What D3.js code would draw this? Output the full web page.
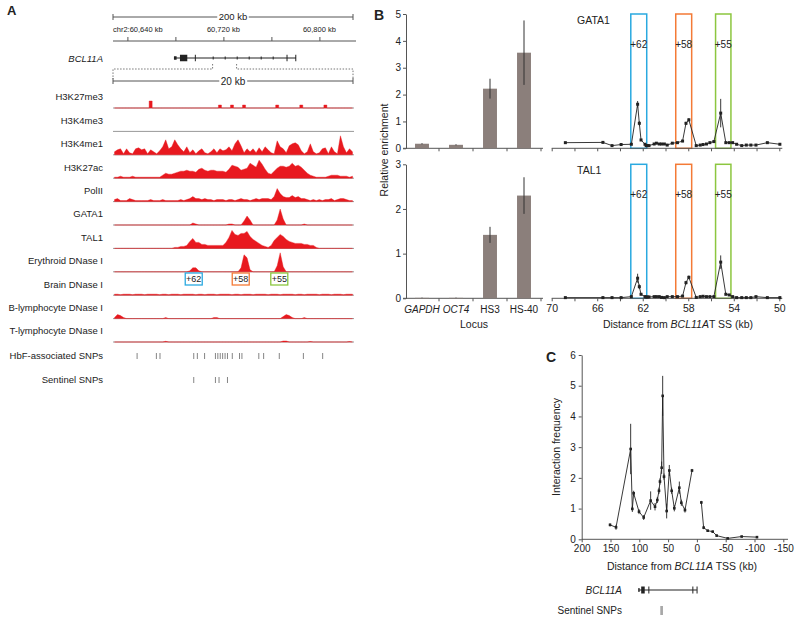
<!DOCTYPE html>
<html><head><meta charset="utf-8">
<script src="https://cdn.jsdelivr.net/npm/d3@7/dist/d3.min.js"></script>
<style>
html,body{margin:0;padding:0;background:#fff;}
svg text{font-family:"Liberation Sans",Arial,Helvetica,sans-serif;fill:#222;}
</style></head><body>
<svg id="fig" width="800" height="620"></svg>
<script>
// ================= DATA =================
// Panel A – genome window (kb, hg19 chr2)
const genomeStart = 60628, genomeEnd = 60828;
const genomeTicks = [60640, 60680, 60720, 60760, 60800];
const genomeTickLabels = [60640, 60720, 60800];
const regionStart = 60711, regionEnd = 60731;
const binKb = 0.25;

const geneName = "BCL11A";
const geneStart = 60678.8, geneTSS = 60780.5;
const exonStart = [60678.8, 60683.8, 60696.2, 60772.6, 60779.9];
const exonEnd   = [60681.0, 60689.9, 60696.9, 60773.3, 60780.5];
const exonType  = ["utr", "cds", "cds", "cds", "cds"];
const intronMarks = [60711.5, 60721.5, 60731.5, 60741.5, 60751.5, 60761.5];

const trackNames = ["H3K27me3","H3K4me3","H3K4me1","H3K27ac","PolII","GATA1","TAL1",
  "Erythroid DNase I","Brain DNase I","B-lymphocyte DNase I","T-lymphocyte DNase I"];

const H3K27me3 = [0,0,0,0,0,0,0,0,0,0, 0,0,7,0,0,0,0,0,0,0, 0,0,0,0,0,0,0,0,0,0, 0,0,0,0,0,3,0,0,0,3,
  0,0,0,3,0,0,0,0,0,0, 0,0,0,0,3,0,0,0,0,0, 0,0,3,0,0,0,0,0,0,0, 3,0,0,0,0,0,0,0,0,0];
const H3K4me3 = [0,0,0,0,0,0,0,0,0,0, 0,0,0,0,0,0,0,0,0,0, 0,0,0,0,0,0,0,0,0,0, 0,0,0,0,0,0,0,0,0,0,
  0,0,0,0,0,0,0,0,0,0, 0,0,0,0,0,0,0,0,0,0, 0,0,0,0,0,0,0,0,0,0, 0,0,0,0,0,0,0,0,0,0];
const H3K4me1 = [3,5,6,1,6,2,1,6,7,5, 6,1,5,3,1,4,8,15,6,8, 15,10,6,3,8,2,5,1,4,6, 2,1,3,6,2,6,4,5,8,4,
  11,15,9,2,6,3,6,2,7,3, 8,5,2,1,14,8,6,2,9,11, 12,10,4,1,3,11,3,1,2,6, 7,1,8,3,1,19,8,2,6,3];
const H3K27ac = [1,1,2,1,1,1,2,1,1,1, 1,1,1,1,1,1,3,5,4,4, 5,6,7,7,8,7,7,6,9,10, 8,7,8,8,7,7,7,6,9,13,
  12,11,8,9,10,15,13,11,18,14, 9,5,4,7,10,12,12,11,12,15, 12,13,11,8,5,3,2,1,1,1, 1,2,3,3,3,2,2,2,1,2];
const PolII = [2,3,1,1,1,3,2,1,1,1, 1,1,2,1,1,1,2,1,1,1, 1,1,2,1,2,3,5,3,3,2, 3,2,2,1,2,2,2,1,2,2,
  1,2,3,2,2,1,2,3,2,3, 3,3,2,5,13,8,5,4,4,6, 4,5,3,3,2,1,2,1,2,1, 2,2,3,1,2,3,3,2,1,1];
const GATA1 = [0,0,0,0,0,0,0,0,0,0, 0,0,0,0,0,0,0,0,0,0, 0,0,0,0,0,0,2,1,0,0, 0,0,0,0,0,0,0,0,1,1,
  0,0,0,4,9,5,0,0,0,0, 0,0,0,0,5,16,6,0,0,0, 0,0,0,1,0,0,0,0,0,0, 0,0,0,0,0,0,0,0,0,0];
const TAL1 = [0,0,0,0,0,0,0,0,0,0, 0,0,0,0,0,0,0,0,0,0, 1,1,2,2,3,7,10,6,6,4, 4,3,3,3,3,3,3,6,11,18,
  14,13,15,15,17,12,9,7,5,3, 2,1,3,8,11,14,12,9,7,6, 5,5,5,4,4,3,3,1,0,0, 0,0,0,0,0,0,0,0,0,0];
const ErythroidDNase = [0,0,0,0,0,0,0,0,0,0, 0,0,0,0,0,0,0,0,0,0, 0,0,0,0,0,1,4,4,1,0, 0,0,0,0,0,0,0,0,0,0,
  0,0,4,17,14,2,0,0,0,0, 0,0,0,0,6,19,5,0,0,0, 0,0,0,0,0,0,0,0,0,0, 0,0,0,0,0,0,0,0,0,0];
const BrainDNase = [1,1,0.5,1,1,1,0.5,1,1,1, 0.5,1,1,1,1,0.5,1,1,0.5,1, 1,1,0.5,1,1,1,1,0.5,1,1, 0.5,1,1,1,0.5,1,1,1,1,0.5,
  1,1,0.5,1,1,1,0.5,1,1,1, 1,0.5,1,1,1,0.5,1,1,1,1, 0.5,1,1,0.5,1,1,1,1,0.5,1, 1,1,0.5,1,1,1,0.5,1,1,1];
const BlymphDNase = [1,4,3,1,0,0,0,0,0,0, 0,0,0,0,0,0,0,1,0,0, 0,0,0,0,0,0,0,0,0,0, 0,0,0,1,1,0,0,0,0,0,
  0,0,0,0,0,0,0,0,0,0, 0,0,0,0,0,0,2,4,3,1, 0,0,0,1,0,0,0,0,0,0, 0,0,0,0,0,0,0,0,0,0];
const TlymphDNase = [0,0,0,0,0,0,0,0,0,0, 0,0,0,0,0,0,0,0.7,0,0, 0,0,0,0,0,0,0,0,0,0, 0,0,0,0,0,0,0,0,0,0,
  0,0,0,0,0,0,0,0,0,0, 0,0,0,0,0,0,1,1,0,0, 0,0,0,0,0,0.5,0,0,0,0, 0,0,0,0,0,0,0,0,0.5,0];

const enhancerLabels = ["+62", "+58", "+55"];
const enhancerCenterA = [60717.7, 60721.6, 60724.8];          // genomic kb (panel A boxes)
const enhancerStartB = [63.05, 59.1, 55.6];                    // kb from TSS (panel B)
const enhancerEndB   = [61.65, 57.7, 54.25];

const hbfSNPs = [60713.0, 60714.6, 60714.9, 60717.7, 60718.0, 60718.6, 60719.5, 60719.7, 60719.9, 60720.1,
  60720.3, 60720.5, 60720.9, 60721.5, 60721.7, 60723.1, 60723.5, 60724.8, 60726.8, 60728.4];
const sentinelSNPs = [60717.7, 60719.5, 60719.8, 60720.5];

// Panel B – bars
const loci = ["GAPDH", "OCT4", "HS3", "HS-40"];
const lociItalic = [true, true, false, false];
const gataBar = [0.17, 0.13, 2.22, 3.56];
const gataBarErr = [0.02, 0.02, 0.37, 1.2];
const talBar = [0.01, 0.01, 1.42, 2.30];
const talBarErr = [0.005, 0.005, 0.18, 0.41];

// Panel B – ChIP-qPCR tiling (kb from TSS)
const chipDist = [68.8, 65.5, 64.7, 63.9, 63.0, 62.45, 62.3, 62.15, 61.8, 61.7, 61.6, 61.45, 61.0, 60.8, 60.55,
  60.35, 60.1, 59.85, 59.4, 58.95, 58.5, 58.2, 57.95, 57.3, 56.95, 56.7, 56.4, 56.1, 55.75, 55.15,
  54.7, 54.4, 54.1, 53.75, 53.3, 52.9, 52.5, 52.05, 51.05, 49.95];
const gataLine = [0.21, 0.22, 0.10, 0.14, 0.15, 1.64, 0.93, 0.31, 0.15, 0.10, 0.10, 0.10, 0.16, 0.19, 0.16,
  0.16, 0.16, 0.12, 0.19, 0.21, 0.27, 0.93, 1.06, 0.10, 0.12, 0.14, 0.16, 0.21, 0.25, 1.31,
  0.21, 0.21, 0.21, 0.15, 0.10, 0.12, 0.12, 0.12, 0.21, 0.15];
const gataLineErr = [0.03, 0.03, 0.03, 0.03, 0.03, 0.12, 0.08, 0.04, 0.03, 0.03, 0.03, 0.03, 0.03, 0.03, 0.03,
  0.03, 0.03, 0.03, 0.03, 0.03, 0.04, 0.06, 0.06, 0.03, 0.03, 0.03, 0.03, 0.03, 0.03, 0.53,
  0.03, 0.03, 0.03, 0.03, 0.03, 0.03, 0.03, 0.03, 0.03, 0.03];
const talLine = [0.015, 0.015, 0.015, 0.015, 0.037, 0.45, 0.26, 0.09, 0.037, 0.03, 0.03, 0.03, 0.037, 0.037, 0.037,
  0.02, 0.015, 0.037, 0.037, 0.037, 0.05, 0.35, 0.47, 0.02, 0.037, 0.045, 0.037, 0.037, 0.037, 0.81,
  0.09, 0.075, 0.037, 0.015, 0.015, 0.015, 0.015, 0.037, 0.015, 0.015];
const talLineErr = [0.02, 0.02, 0.02, 0.02, 0.02, 0.1, 0.05, 0.02, 0.02, 0.02, 0.02, 0.02, 0.02, 0.02, 0.02,
  0.02, 0.02, 0.02, 0.02, 0.02, 0.02, 0.04, 0.04, 0.02, 0.02, 0.02, 0.02, 0.02, 0.02, 0.15,
  0.02, 0.02, 0.02, 0.02, 0.02, 0.02, 0.02, 0.02, 0.02, 0.02];

// Panel C – chromosome conformation capture
const ccDist = [150.8, 140.4, 115.0, 112.1, 109.8, 100.5, 92.4, 80.3, 72.7, 68.7, 65.8, 64.1, 61.2, 59.4, 57.1,
  52.5, 47.9, 43.8, 39.2, 30.5, 27.0, 20.7, 8.5, -7.7, -11.7, -18.7, -27.4, -34.3, -53.4, -77.7, -104.3];
const ccFreq = [0.47, 0.39, 2.94, 0.99, 1.50, 0.90, 0.71, 1.26, 1.06, 1.28, 1.58, 1.88, 2.33, 4.67, 2.04,
  0.92, 2.24, 1.58, 1.01, 1.68, 1.19, 0.95, 2.24, 1.20, 0.38, 0.28, 0.25, 0.12, 0.03, 0.09, 0.07];
const ccErr = [0.05, 0.08, 0.82, 0.1, 0.08, 0.08, 0.08, 0.3, 0.12, 0.1, 0.1, 0.1, 0.2, 0.65, 0.1,
  0.24, 0.18, 0.1, 0.1, 0.2, 0.1, 0.08, 0.05, 0.05, 0.05, 0.03, 0.03, 0.03, 0.02, 0.02, 0.02];
const ccSegment = [1,1,1,1,1,1,1,1,1,1,1,1,1,1,1,1,1,1,1,1,1,1,1,2,2,2,2,2,2,2,2];

const yTicksTop = [0,1,2,3,4,5], yTicksBot = [0,1,2,3];
const distTicks = [70,68,66,64,62,60,58,56,54,52,50];
const distTickLabels = [70,66,62,58,54,50];
const ccTicksX = [200,150,100,50,0,-50,-100,-150];
const ccTicksY = [0,1,2,3,4,5,6];

// ================= DRAW =================
const svg = d3.select("#fig");
const ink = "#222", red = "#e8191f";
const enhColors = ["#2aa9e0", "#f47a36", "#8cc63f"];
const intFmt = d => String(d);

function txt(g, x, y, s, size, anchor) {
  return g.append("text").attr("x", x).attr("y", y).attr("font-size", size + "px")
    .attr("text-anchor", anchor || "start").text(s);
}
txt(svg, 7, 15, "A", 13).attr("font-weight", "bold");
txt(svg, 374, 20, "B", 14).attr("font-weight", "bold");
txt(svg, 546, 362, "C", 14).attr("font-weight", "bold");

// ---------- Panel A ----------
const A = svg.append("g");
const gx = d3.scaleLinear().domain([genomeStart, genomeEnd]).range([113, 353]);
const tx = d3.scaleLinear().domain([regionStart, regionEnd]).range([113, 354]);

function ruler(y, x0, x1, label, size) {
  A.append("line").attr("x1", x0).attr("x2", x1).attr("y1", y).attr("y2", y).attr("stroke", "#555");
  [x0, x1].forEach(x => A.append("line").attr("x1", x).attr("x2", x).attr("y1", y - 3).attr("y2", y + 3).attr("stroke", "#555"));
  const bg = A.append("rect").attr("fill", "#fff");
  const t = txt(A, (x0 + x1) / 2, y + size * 0.36, label, size, "middle");
  const bb = t.node().getBBox();
  bg.attr("x", bb.x - 1.5).attr("y", y - 2).attr("width", bb.width + 3).attr("height", 4);
}
ruler(17, gx(genomeStart), gx(genomeEnd), "200 kb", 9.5);

const gAxis = A.append("g").attr("transform", "translate(0,41)")
  .call(d3.axisTop(gx).tickValues(genomeTicks).tickSize(4).tickSizeOuter(0).tickFormat(""));
gAxis.select(".domain").remove();
gAxis.selectAll("line").attr("stroke", "#555");
A.append("line").attr("x1", 113).attr("x2", 356).attr("y1", 41).attr("y2", 41).attr("stroke", "#555");
genomeTickLabels.forEach((v, i) => {
  const lab = (i === 0 ? "chr2:" : "") + d3.format(",")(v) + " kb";
  txt(A, i === 0 ? 113 : gx(v), 32, lab, 7.5, i === 0 ? "start" : "middle");
});

const geneY = 58;
txt(A, 103, geneY + 3.5, geneName, 9.5, "end").attr("font-style", "italic");
A.append("line").attr("x1", gx(geneStart)).attr("x2", gx(geneTSS)).attr("y1", geneY).attr("y2", geneY).attr("stroke", ink);
exonStart.forEach((s, i) => {
  const h = exonType[i] === "utr" ? 3.5 : 6.5;
  const x0 = gx(s), w = Math.max(1, gx(exonEnd[i]) - x0);
  A.append("rect").attr("x", x0).attr("y", geneY - h / 2).attr("width", w).attr("height", h).attr("fill", ink);
});
intronMarks.forEach(p => A.append("line").attr("x1", gx(p)).attr("x2", gx(p)).attr("y1", geneY - 1.5).attr("y2", geneY + 1.5).attr("stroke", ink));

A.append("path").attr("d", `M${gx(regionStart)},64V69H${tx(regionStart)}V79`).attr("fill", "none").attr("stroke", "#777").attr("stroke-dasharray", "1.5,1.5");
A.append("path").attr("d", `M${gx(regionEnd)},64V69H${tx(regionEnd) - 1}V79`).attr("fill", "none").attr("stroke", "#777").attr("stroke-dasharray", "1.5,1.5");
ruler(81, tx(regionStart), tx(regionEnd) - 1, "20 kb", 10);

const trackValues = [H3K27me3, H3K4me3, H3K4me1, H3K27ac, PolII, GATA1, TAL1, ErythroidDNase, BrainDNase, BlymphDNase, TlymphDNase];
const blocky = { "H3K27me3": true };
const th = d3.scaleLinear().domain([0, 19]).range([0, 19]);
trackNames.forEach((name, i) => {
  const base = 108 + i * 23.4;
  txt(A, 103, base - 11 + 3.4, name, 9.5, "end");
  A.append("line").attr("x1", 113).attr("x2", 354).attr("y1", base).attr("y2", base).attr("stroke", "#999").attr("stroke-width", 1);
  const area = d3.area()
    .x((d, j) => tx(regionStart + (j + 0.5) * binKb))
    .y0(base).y1(d => base - th(d))
    .curve(blocky[name] ? d3.curveStep : d3.curveLinear);
  A.append("path").datum(trackValues[i]).attr("d", area).attr("fill", red).attr("stroke", d3.max(trackValues[i]) > 0 ? red : "none").attr("stroke-width", 0.4);
});
enhancerLabels.forEach((lab, i) => {
  const cx = tx(enhancerCenterA[i]);
  A.append("rect").attr("x", cx - 8.5).attr("y", 273).attr("width", 17).attr("height", 12)
    .attr("fill", "#fff").attr("stroke", enhColors[i]).attr("stroke-width", 1.3);
  txt(A, cx, 282.3, lab, 9, "middle");
});
const snpRows = [["HbF-associated SNPs", hbfSNPs, 356], ["Sentinel SNPs", sentinelSNPs, 380]];
snpRows.forEach(([name, arr, y]) => {
  txt(A, 103, y + 3.4, name, 9.5, "end");
  arr.forEach(p => A.append("line").attr("x1", tx(p)).attr("x2", tx(p)).attr("y1", y - 3).attr("y2", y + 3).attr("stroke", "#666").attr("stroke-width", 0.8));
});

// ---------- Panel B ----------
const B = svg.append("g");
const yTop = d3.scaleLinear().domain([0, 5]).range([148.3, 14]);
const yBot = d3.scaleLinear().domain([0, 3]).range([298.3, 164.3]);
const xb = d3.scaleBand().domain(loci).range([405, 541]).paddingInner(0.59).paddingOuter(0.295);
const barColor = "#8b7f7b";

function styleAxis(g) {
  g.selectAll("path,line").attr("stroke", "#555");
  g.selectAll("text").attr("fill", ink).attr("font-family", '"Liberation Sans",Arial,sans-serif');
}
[[yTop, yTicksTop, gataBar, gataBarErr], [yBot, yTicksBot, talBar, talBarErr]].forEach(([y, ticks, vals, errs]) => {
  const ay = B.append("g").attr("transform", "translate(406,0)")
    .call(d3.axisLeft(y).tickValues(ticks).tickFormat(intFmt).tickSize(3).tickPadding(2).tickSizeOuter(0));
  ay.selectAll("text").attr("font-size", "10px");
  styleAxis(ay);
  const y0 = y(0);
  B.append("line").attr("x1", 403).attr("x2", 543).attr("y1", y0).attr("y2", y0).attr("stroke", "#555");
  loci.forEach(d => {
    const xt = xb(d) + xb.bandwidth() / 2 + xb.step() / 2;
    B.append("line").attr("x1", xt).attr("x2", xt).attr("y1", y0).attr("y2", y0 + 3).attr("stroke", "#555");
  });
  B.selectAll(null).data(vals).enter().append("rect")
    .attr("x", (d, i) => xb(loci[i])).attr("width", xb.bandwidth())
    .attr("y", d => y(d)).attr("height", d => Math.max(0.6, y0 - y(d))).attr("fill", barColor);
  B.selectAll(null).data(vals).enter().append("line")
    .attr("x1", (d, i) => xb(loci[i]) + xb.bandwidth() / 2).attr("x2", (d, i) => xb(loci[i]) + xb.bandwidth() / 2)
    .attr("y1", (d, i) => y(d + errs[i])).attr("y2", (d, i) => y(d - errs[i]))
    .attr("stroke", "#333").attr("stroke-width", 1);
});
loci.forEach((d, i) => {
  txt(B, xb(d) + xb.bandwidth() / 2, 312.5, d, 10, "middle").attr("font-style", lociItalic[i] ? "italic" : "normal");
});
txt(B, 474, 328, "Locus", 10.5, "middle");
txt(B, 0, 0, "Relative enrichment", 10.5, "middle").attr("transform", "translate(388,150) rotate(-90)");

const xd = d3.scaleLinear().domain([70, 50]).range([551.7, 779.3]);
[[yTop, gataLine, gataLineErr, "GATA1", 5, true], [yBot, talLine, talLineErr, "TAL1", 3, false]].forEach(([y, vals, errs, name, ymax, top]) => {
  const y0 = y(0);
  enhancerLabels.forEach((lab, i) => {
    const x0 = xd(enhancerStartB[i]), x1 = xd(enhancerEndB[i]);
    B.append("rect").attr("x", x0).attr("y", y(ymax)).attr("width", x1 - x0).attr("height", y0 - y(ymax))
      .attr("fill", "none").attr("stroke", enhColors[i]).attr("stroke-width", 1.5);
    txt(B, (x0 + x1) / 2, y(ymax) + 33.5, lab, 10, "middle");
  });
  const ax = B.append("g").attr("transform", `translate(0,${y0})`)
    .call(d3.axisBottom(xd).tickValues(distTicks).tickSize(3).tickPadding(3).tickSizeOuter(0)
      .tickFormat(d => (!top && distTickLabels.includes(d)) ? String(d) : ""));
  ax.selectAll("text").attr("font-size", "10.5px");
  styleAxis(ax);
  ax.select(".domain").attr("d", `M${xd(70)},0H${xd(50) + 3}`);
  txt(B, 577, y(ymax) + 10, name, 10.5, "start");
  const line = d3.line().x((d, i) => xd(chipDist[i])).y(d => y(d));
  B.append("path").datum(vals).attr("d", line).attr("fill", "none").attr("stroke", ink).attr("stroke-width", 0.9);
  B.selectAll(null).data(vals).enter().append("line")
    .attr("x1", (d, i) => xd(chipDist[i])).attr("x2", (d, i) => xd(chipDist[i]))
    .attr("y1", (d, i) => y(d + errs[i])).attr("y2", (d, i) => y(Math.max(0, d - errs[i])))
    .attr("stroke", ink).attr("stroke-width", 0.9);
  B.selectAll(null).data(vals).enter().append("rect")
    .attr("x", (d, i) => xd(chipDist[i]) - 1.5).attr("y", d => y(d) - 1.5)
    .attr("width", 3).attr("height", 3).attr("fill", ink);
});
const dt = txt(B, 678, 328, "", 10.5, "middle");
dt.append("tspan").text("Distance from ");
dt.append("tspan").attr("font-style", "italic").text("BCL11A");
dt.append("tspan").text("T SS (kb)");

// ---------- Panel C ----------
const C = svg.append("g");
const xc = d3.scaleLinear().domain([200, -150]).range([581.7, 783.3]);
const yc = d3.scaleLinear().domain([0, 6]).range([539.3, 355]);
const acy = C.append("g").attr("transform", "translate(581.7,0)")
  .call(d3.axisLeft(yc).tickValues(ccTicksY).tickFormat(intFmt).tickSize(3).tickPadding(3).tickSizeOuter(0));
acy.selectAll("text").attr("font-size", "10px");
styleAxis(acy);
const acx = C.append("g").attr("transform", "translate(0,539.3)")
  .call(d3.axisBottom(xc).tickValues(ccTicksX).tickSize(3).tickPadding(3).tickSizeOuter(0).tickFormat(intFmt));
acx.selectAll("text").attr("font-size", "10px");
styleAxis(acx);
acx.select(".domain").attr("d", `M${xc(200)},0H788`);
txt(C, 0, 0, "Interaction frequency", 10.5, "middle").attr("transform", "translate(560,447) rotate(-90)");
const ct = txt(C, 682, 570, "", 10.5, "middle");
ct.append("tspan").text("Distance from ");
ct.append("tspan").attr("font-style", "italic").text("BCL11A");
ct.append("tspan").text(" TSS (kb)");

const ccIdx = ccDist.map((d, i) => i);
[1, 2].forEach(seg => {
  const ids = ccIdx.filter(i => ccSegment[i] === seg);
  C.append("path").datum(ids).attr("d", d3.line().x(i => xc(ccDist[i])).y(i => yc(ccFreq[i])))
    .attr("fill", "none").attr("stroke", ink).attr("stroke-width", 0.9);
});
C.selectAll(null).data(ccIdx).enter().append("line")
  .attr("x1", i => xc(ccDist[i])).attr("x2", i => xc(ccDist[i]))
  .attr("y1", i => yc(ccFreq[i] + ccErr[i])).attr("y2", i => yc(Math.max(0, ccFreq[i] - ccErr[i])))
  .attr("stroke", ink).attr("stroke-width", 0.9);
C.selectAll(null).data(ccIdx).enter().append("rect")
  .attr("x", i => xc(ccDist[i]) - 1.3).attr("y", i => yc(ccFreq[i]) - 1.3)
  .attr("width", 2.6).attr("height", 2.6).attr("fill", ink);

const cGeneY = 590;
txt(C, 622, cGeneY + 3.5, geneName, 10, "end").attr("font-style", "italic");
C.append("line").attr("x1", xc(geneTSS - geneStart)).attr("x2", xc(0)).attr("y1", cGeneY).attr("y2", cGeneY).attr("stroke", ink).attr("stroke-width", 1.2);
exonStart.forEach((s, i) => {
  const h = exonType[i] === "utr" ? 4 : 7;
  const xa = xc(geneTSS - s), xbb = xc(geneTSS - exonEnd[i]);
  C.append("rect").attr("x", Math.min(xa, xbb)).attr("y", cGeneY - h / 2).attr("width", Math.max(1, Math.abs(xbb - xa)))
    .attr("height", h).attr("fill", ink);
});
txt(C, 622, 614, "Sentinel SNPs", 10, "end");
sentinelSNPs.forEach(p => C.append("line").attr("x1", xc(geneTSS - p)).attr("x2", xc(geneTSS - p))
  .attr("y1", 606).attr("y2", 615).attr("stroke", "#999").attr("stroke-width", 0.8));
</script></body></html>
